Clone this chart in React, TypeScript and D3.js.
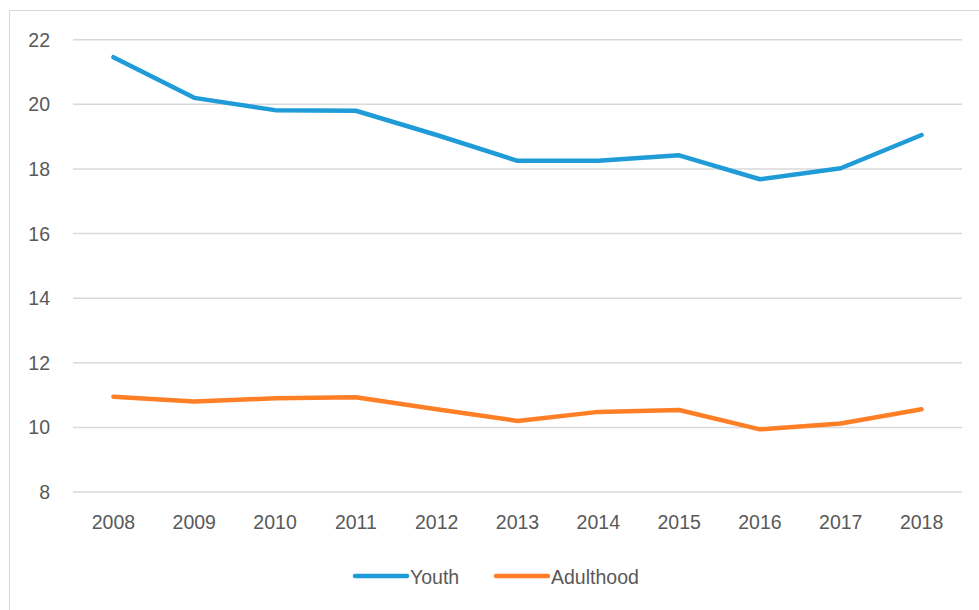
import React from "react";
import * as d3 from "d3";

const years = ["2008", "2009", "2010", "2011", "2012", "2013", "2014", "2015", "2016", "2017", "2018"];
const youth = [21.46, 20.2, 19.82, 19.8, 19.05, 18.25, 18.25, 18.42, 17.68, 18.02, 19.05];
const adulthood = [10.95, 10.8, 10.9, 10.93, 10.56, 10.2, 10.48, 10.54, 9.94, 10.12, 10.56];
const yTicks = [8, 10, 12, 14, 16, 18, 20, 22];
const seriesNames = ["Youth", "Adulthood"];
const seriesColors = ["#1F9CD8", "#FF7F27"];

const W = 979;
const H = 610;
const FONT = "'Liberation Sans', Arial, sans-serif";
const FS = 19.5;

export default function App() {
  const x = d3.scaleBand<string>().domain(years).range([73, 962]);
  const y = d3.scaleLinear().domain([8, 22]).range([492, 39.7]);
  const line = d3
    .line<number>()
    .x((_, i) => (x(years[i]) as number) + x.bandwidth() / 2)
    .y((d) => y(d));
  const series = [youth, adulthood];

  const legendX = [353, 494];

  return (
    <svg
      width={W}
      height={H}
      style={{ position: "absolute", left: 0, top: 0, background: "#fff" }}
    >
      <rect x={9.5} y={10.5} width={W + 10} height={H + 10} fill="#fff" stroke="#d9d9d9" strokeWidth={1} />
      {yTicks.map((t) => (
        <g key={t}>
          <line x1={73} x2={962} y1={y(t)} y2={y(t)} stroke="#d9d9d9" strokeWidth={1.5} />
          <text
            x={50}
            y={y(t)}
            textAnchor="end"
            dominantBaseline="central"
            fontFamily={FONT}
            fontSize={FS}
            fill="#595959"
          >
            {t}
          </text>
        </g>
      ))}
      {years.map((yr) => (
        <text
          key={yr}
          x={(x(yr) as number) + x.bandwidth() / 2}
          y={522}
          textAnchor="middle"
          dominantBaseline="central"
          fontFamily={FONT}
          fontSize={FS}
          fill="#595959"
        >
          {yr}
        </text>
      ))}
      {series.map((s, i) => (
        <path
          key={seriesNames[i]}
          d={line(s) || ""}
          fill="none"
          stroke={seriesColors[i]}
          strokeWidth={4.5}
          strokeLinecap="round"
          strokeLinejoin="round"
        />
      ))}
      {seriesNames.map((n, i) => (
        <g key={n}>
          <line
            x1={legendX[i] + 2}
            x2={legendX[i] + 54}
            y1={576}
            y2={576}
            stroke={seriesColors[i]}
            strokeWidth={4.5}
            strokeLinecap="round"
          />
          <text
            x={legendX[i] + 57}
            y={577}
            dominantBaseline="central"
            fontFamily={FONT}
            fontSize={FS}
            fill="#595959"
          >
            {n}
          </text>
        </g>
      ))}
    </svg>
  );
}
